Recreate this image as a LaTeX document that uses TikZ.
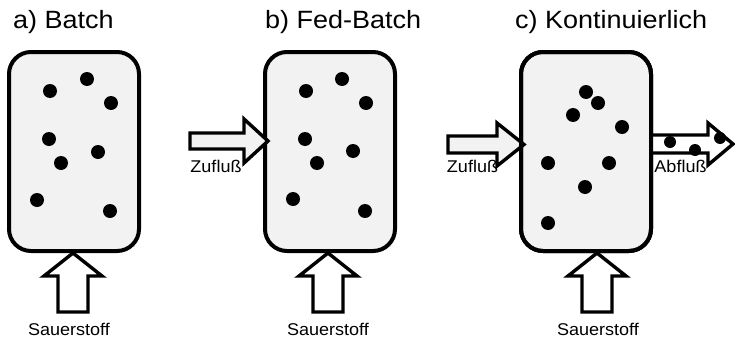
\documentclass[tikz,border=0pt]{standalone}
\usepackage{fontspec}
\setmainfont{Liberation Sans}
\usepackage{graphicx}
\tikzset{
  vessel/.style={draw=black, line width=4pt, fill=gray!10, rounded corners=22pt,
    minimum width=130pt, minimum height=199pt, inner sep=0pt},
  cell/.style={fill=black, circle, minimum size=14pt, inner sep=0pt},
  blockarrow/.style={draw=black, line width=3.4pt, line join=miter},
  title/.style={anchor=base west, inner sep=0pt, font=\fontsize{25}{29}\selectfont},
  label/.style={anchor=base, inner sep=0pt, font=\fontsize{17}{20}\selectfont},
}
\newcommand\wide[2]{\scalebox{#1}[1]{#2}}
\begin{document}
\begin{tikzpicture}[x=1pt, y=-1pt]
\useasboundingbox (0,0) rectangle (735,340);

% titles
\node[title] (ta) at (13,28) {\wide{1.08}{a) Batch}};
\node[title] (tb) at (265,28) {\wide{1.08}{b) Fed-Batch}};
\node[title] (tc) at (515,28) {\wide{1.08}{c) Kontinuierlich}};

% vessels
\node[vessel] (A) at (74,151.5) {};
\node[vessel] (B) at (330,151.5) {};
\node[vessel] (C) at (586,151.5) {};

% cells a
\foreach \x/\y [count=\i] in {50/91, 87/79, 111/103, 49/139, 98/152, 61/163, 37/200, 110/211}
  \node[cell] (a\i) at (\x,\y) {};
% cells b
\foreach \x/\y [count=\i] in {306/91, 342/79, 366/103, 305/139, 353/151, 317/163, 293/199, 365/211}
  \node[cell] (b\i) at (\x,\y) {};
% cells c
\foreach \x/\y [count=\i] in {586/92, 598/103, 573/115, 622/127, 548/163, 609/163, 585/187, 548/223}
  \node[cell] (c\i) at (\x,\y) {};

% bottom arrows (Sauerstoff)
\foreach \n/\t in {A/73, B/328, C/597}{
  \coordinate (tip\n) at (\t,253);
  \draw[blockarrow, fill=white] (tip\n) -- ++(-29,23) -- ++(14,0) -- ++(0,36) -- ++(30,0)
     -- ++(0,-36) -- ++(14,0) -- cycle;
}
\node[label] (sa) at (69,335) {\wide{1.06}{Sauerstoff}};
\node[label] (sb) at (328,335) {\wide{1.06}{Sauerstoff}};
\node[label] (sc) at (598,335) {\wide{1.06}{Sauerstoff}};

% Zufluss b
\coordinate (zb) at (268,141);
\draw[blockarrow, fill=gray!10] (zb) -- ++(-24,-22) -- ++(0,14) -- ++(-54,0) -- ++(0,16)
   -- ++(54,0) -- ++(0,14) -- cycle;
\node[label] (lzb) at (216,172) {\wide{1.06}{Zufluß}};

% Zufluss c
\coordinate (zc) at (524,144.5);
\draw[blockarrow, fill=gray!10] (zc) -- ++(-27,-21.5) -- ++(0,13) -- ++(-49,0) -- ++(0,17)
   -- ++(49,0) -- ++(0,13) -- cycle;
\node[label] (lzc) at (472.5,172) {\wide{1.06}{Zufluß}};

% Abfluss c
\coordinate (ac) at (651,144);
\fill[white] (651,135) -- (708,135) -- (708,123) -- (733,144) -- (708,165) -- (708,153) -- (651,153) -- cycle;
\node[cell, minimum size=12pt] (d1) at (670,142) {};
\node[cell, minimum size=12pt] (d2) at (695,150) {};
\node[cell, minimum size=12pt] (d3) at (720,138) {};
\draw[blockarrow] (651,135) -- (708,135) -- (708,123) -- (733,144) -- (708,165) -- (708,153) -- (651,153);
\node[label] (lac) at (680.5,172) {\wide{1.06}{Abfluß}};

% redraw vessel C border over arrow ends
\node[vessel, fill=none] at (C) {};
\end{tikzpicture}
\end{document}
